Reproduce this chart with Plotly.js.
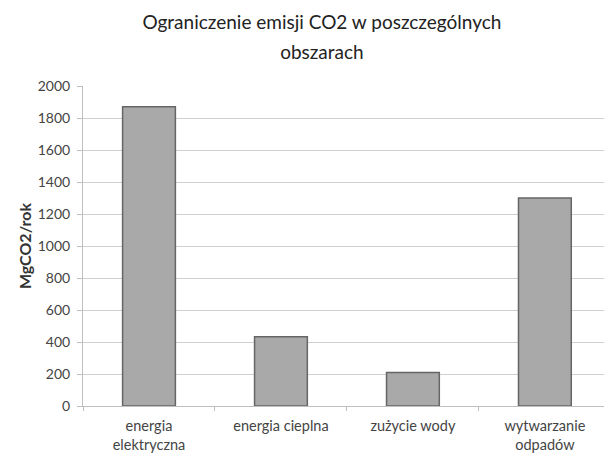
<!DOCTYPE html>
<html>
<head>
<meta charset="utf-8">
<script src="https://cdn.plot.ly/plotly-3.0.1.min.js"></script>
<style>html,body{margin:0;padding:0;background:#fff;}#chart{width:604px;height:455px;}</style>
</head>
<body>
<div id="chart"></div>
<script>
const categories = ["energia<br>elektryczna", "energia cieplna", "zużycie wody", "wytwarzanie<br>odpadów"];
const values = [1870, 433, 210, 1300];
const yTicks = [0, 200, 400, 600, 800, 1000, 1200, 1400, 1600, 1800, 2000];
const titleLines = ["Ograniczenie emisji CO2 w poszczególnych", "obszarach"];
const yTitle = "MgCO2/rok";

const font = "Lato, 'Open Sans', sans-serif";

const trace = {
  type: "bar",
  x: categories,
  y: values,
  width: 0.4,
  marker: { color: "#a9a9a9", line: { color: "#666666", width: 1.5 } },
  hoverinfo: "x+y"
};

const layout = {
  width: 604,
  height: 455,
  paper_bgcolor: "#ffffff",
  plot_bgcolor: "#ffffff",
  margin: { l: 83, r: 0, t: 86, b: 49 },
  showlegend: false,
  font: { family: font, color: "#444444" },
  title: {
    text: titleLines.map(s => '<span style="font-size:19px">' + s + '</span>').join("<br>"),
    font: { family: font, size: 23, color: "#222222" },
    x: 0.533, xanchor: "center",
    y: 0.937, yanchor: "top", yref: "container"
  },
  xaxis: {
    type: "category",
    range: [-0.5, 3.448],
    showgrid: false,
    showline: true,
    linecolor: "#bfbfbf",
    linewidth: 1,
    ticks: "outside",
    tickson: "boundaries",
    ticklen: 4,
    tickcolor: "#bfbfbf",
    ticklabelstandoff: 7,
    tickfont: { family: font, size: 14.5, color: "#444444" },
    fixedrange: true
  },
  yaxis: {
    range: [0, 2000],
    tickvals: yTicks,
    showgrid: true,
    gridcolor: "#d0d0d0",
    gridwidth: 1,
    showline: true,
    linecolor: "#bfbfbf",
    ticks: "outside",
    ticklen: 5,
    tickcolor: "#bfbfbf",
    zeroline: false,
    ticklabelstandoff: 4,
    tickfont: { family: font, size: 14, color: "#444444" },
    title: { text: "<b>" + yTitle + "</b>", font: { family: font, size: 16, color: "#333333" }, standoff: 2 },
    fixedrange: true
  },
  bargap: 0.6
};

Plotly.newPlot("chart", [trace], layout, { displayModeBar: false, staticPlot: true });
</script>
</body>
</html>
